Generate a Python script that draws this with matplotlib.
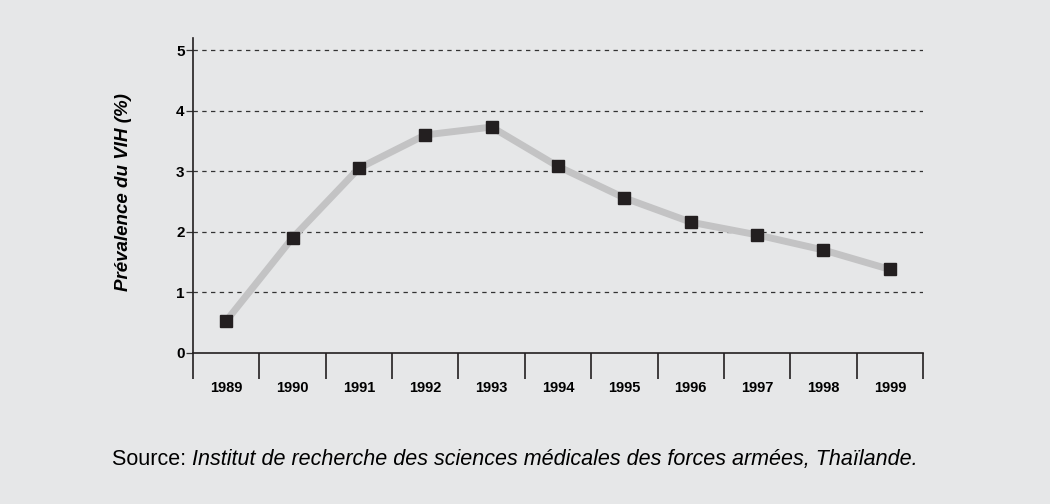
import matplotlib.pyplot as plt
import numpy as np

# data
years = ["1989", "1990", "1991", "1992", "1993", "1994", "1995", "1996", "1997", "1998", "1999"]
prevalence = [0.53, 1.9, 3.05, 3.6, 3.73, 3.08, 2.56, 2.16, 1.95, 1.70, 1.38]
y_ticks = [0, 1, 2, 3, 4, 5]

BG = "#e6e7e8"
plt.rcParams['font.family'] = ['Liberation Sans', 'DejaVu Sans']

fig = plt.figure(figsize=(10.5, 5.04), dpi=100, facecolor=BG)
ax = fig.add_axes([193 / 1050, 1 - 353 / 504, 730 / 1050, 315 / 504])
ax.set_facecolor(BG)

x = np.arange(len(years))
ax.plot(x, prevalence, color="#c3c3c4", lw=5, solid_capstyle="butt", zorder=2)
ax.plot(x, prevalence, ls="none", marker="s", ms=9, color="#231f20", zorder=3)

ax.set_xlim(-0.5, len(years) - 0.5)
ax.set_ylim(0, 5.2)

# dashed grid
for v in y_ticks[1:]:
    ax.axhline(v, color="#333333", lw=0.9, ls=(0, (3.5, 3.5)), zorder=1)

for s in ["top", "right"]:
    ax.spines[s].set_visible(False)
for s in ["left", "bottom"]:
    ax.spines[s].set_linewidth(1.2)
    ax.spines[s].set_color("#231f20")

ax.set_yticks(y_ticks)
ax.set_yticklabels([str(v) for v in y_ticks], fontsize=11, fontweight="bold")
ax.tick_params(axis="y", length=5, width=0.9, pad=1, color="#333333")

ax.set_xticks(x)
ax.set_xticklabels(years, fontsize=10.5, fontweight="bold")
ax.tick_params(axis="x", which="major", length=0, pad=20)
ax.set_xticks(np.arange(-0.5, len(years)), minor=True)
ax.tick_params(axis="x", which="minor", length=19, width=1.2, color="#231f20")

ax.set_ylabel("Prévalence du VIH (%)", fontsize=13.5, fontweight="bold", style="italic")
ax.yaxis.set_label_coords(-0.084, 0.51)

# source line: regular "Source:" followed by italic text on the same baseline
src_y = 1 - 465 / 504
src = fig.text(112 / 1050, src_y, "Source: ", fontsize=15.5, va="baseline", ha="left")
fig.canvas.draw()
bb = src.get_window_extent().transformed(fig.transFigure.inverted())
fig.text(bb.x1, src_y, "Institut de recherche des sciences médicales des forces armées, Thaïlande.",
         fontsize=15.5, style="italic", va="baseline", ha="left")

fig.savefig("out.png", dpi=100, facecolor=BG)
